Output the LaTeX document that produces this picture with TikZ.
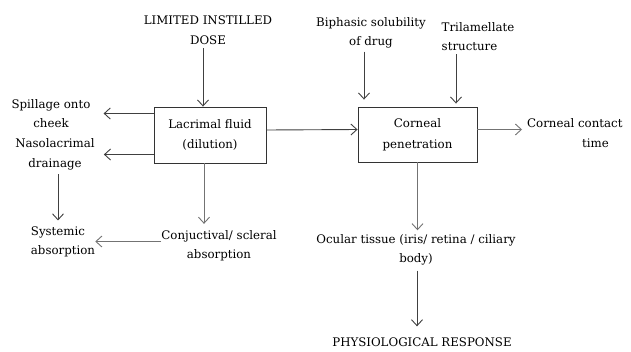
\documentclass[tikz,border=0pt]{standalone}
\usepackage{fontspec}
\setmainfont{DejaVu Serif}
\usetikzlibrary{arrows.meta}
\begin{document}
\begin{tikzpicture}[x=1pt,y=-1pt,
  txt/.style={inner sep=0pt, font=\fontsize{11.8}{19.5}\selectfont, text=black},
  boxnode/.style={draw=black!80, line width=0.9pt, minimum width=112pt, minimum height=56pt, inner sep=0pt, align=center, font=\fontsize{11.8}{20.5}\selectfont, text=black},
  arr/.style={draw=black!75, line width=0.9pt, -{Straight Barb[length=6pt,width=11pt,line width=0.9pt]}},
  arrl/.style={arr, draw=black!55}]
\useasboundingbox[fill=white] (0,0) rectangle (631,351);
% nodes
\node[txt, align=center] (dose) at (208,30) {LIMITED INSTILLED\\DOSE};
\node[boxnode] (lac) at (210,135) {Lacrimal fluid\\(dilution)};
\node[txt, align=center] (spill) at (51,113.5) {Spillage onto\\cheek};
\node[txt, align=center] (naso) at (55,154.5) {Nasolacrimal\\drainage};
\node[txt, align=left] (sys) at (63,242) {Systemic\\absorption};
\node[txt, align=center] (conj) at (219,245.5) {Conjuctival/ scleral\\absorption};
\node[boxnode, minimum width=119pt, minimum height=55pt] (corn) at (417.5,134.5) {Corneal\\penetration};
\node[txt, align=center] (bip) at (371,33) {Biphasic solubility\\of drug};
\node[txt, align=left] (tri) at (478,36.5) {Trilamellate\\structure};
\node[txt, align=left, anchor=west] (cont) at (527,133) {Corneal contact\\\hspace*{55pt}time};
\node[txt, align=center] (ocu) at (416,250) {Ocular tissue (iris/ retina / ciliary\\body)};
\node[txt] (phys) at (422,342) {PHYSIOLOGICAL RESPONSE};
% connectors
\draw[arr, shorten <=4pt] ([xshift=-5pt]dose.south) -- ([xshift=-5pt]dose.south |- lac.north);
\draw[arr] (lac.west |- spill.east) -- ([xshift=13pt]spill.east);
\draw[arr] (lac.west |- naso.east) -- ([xshift=9pt]naso.east);
\draw[arr, shorten <=4pt, shorten >=6pt] ([xshift=3pt]naso.south) -- ([xshift=3pt]naso.south |- sys.north);
\draw[arrl, shorten >=6pt] ([xshift=-6pt]lac.south) -- ([xshift=-6pt]lac.south |- conj.north);
\draw[arrl] ([yshift=4pt]conj.west) -- ([yshift=4pt]conj.west -| sys.east);
\draw[arr] ([yshift=5pt]lac.east) -- ([yshift=5pt]corn.west);
\draw[arr, shorten <=3pt, shorten >=7pt] ([xshift=-7pt]bip.south) -- ([xshift=-7pt]bip.south |- corn.north);
\draw[arr, shorten <=3pt, shorten >=3pt] ([xshift=-22pt]tri.south) -- ([xshift=-22pt]tri.south |- corn.north);
\draw[arrl, shorten >=5pt] ([yshift=5pt]corn.east) -- ([yshift=5pt]corn.east -| cont.west);
\draw[arrl, shorten >=4pt] (corn.south) -- (corn.south |- ocu.north);
\draw[arr, shorten <=5pt, shorten >=11pt] ([xshift=1pt]ocu.south) -- ([xshift=1pt]ocu.south |- phys.north);
\end{tikzpicture}
\end{document}
